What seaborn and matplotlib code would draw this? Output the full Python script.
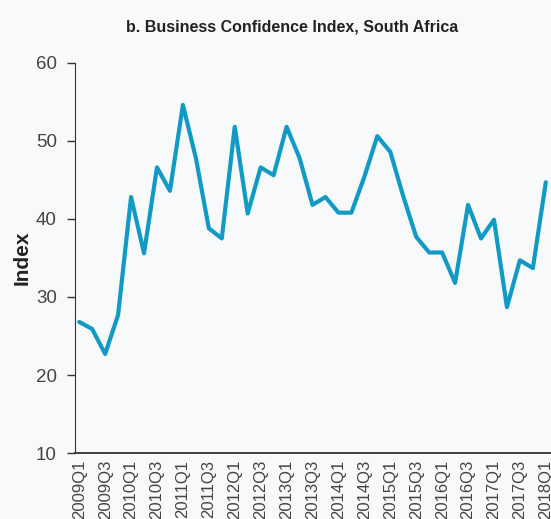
import matplotlib
matplotlib.use('Agg')
import matplotlib.pyplot as plt
import matplotlib.transforms as mtransforms
import pandas as pd
import seaborn as sns

# quarterly business confidence index, 2009Q1 - 2018Q1
quarters = [f'{y}Q{q}' for y in range(2009, 2018) for q in range(1, 5)] + ['2018Q1']
index_values = [26.8, 25.9, 22.7, 27.7, 42.8, 35.6, 46.6, 43.6, 54.6, 47.8,
                38.8, 37.5, 51.8, 40.7, 46.6, 45.6, 51.8, 47.8, 41.8, 42.8,
                40.8, 40.8, 45.4, 50.6, 48.6, 42.9, 37.7, 35.7, 35.7, 31.8,
                41.8, 37.5, 39.9, 28.7, 34.7, 33.7, 44.7]
tick_labels = quarters[::2]

bg = '#f8f9fb'
line_color = '#119ac4'

sns.set_style('ticks')
plt.rcParams['font.family'] = ['Liberation Sans', 'DejaVu Sans']

df = pd.DataFrame({'pos': range(len(quarters)), 'Index': index_values})

fig = plt.figure(figsize=(5.51, 5.19), dpi=100, facecolor=bg)
ax = fig.add_axes([0.136, 0.127, 0.864, 0.752], facecolor=bg)
sns.lineplot(data=df, x='pos', y='Index', color=line_color, linewidth=3.0, ax=ax)

ax.set_xlim(-0.33, 36.4)
ax.set_ylim(10, 60)
ax.set_yticks([10, 20, 30, 40, 50, 60])
ax.set_xticks(range(0, len(quarters), 2))
ax.set_xticklabels(tick_labels, rotation=90, fontsize=12, color='#444444')
shift = mtransforms.ScaledTranslation(5 / 100, 0, fig.dpi_scale_trans)
for lbl in ax.get_xticklabels():
    lbl.set_horizontalalignment('center')
    lbl.set_transform(lbl.get_transform() + shift)
ax.tick_params(axis='x', length=0, pad=5)
ax.tick_params(axis='y', length=6, width=1, pad=7, labelsize=13.5,
               labelcolor='#444444', color='#333333')
sns.despine(ax=ax)
ax.spines['left'].set_color('#333333')
ax.spines['bottom'].set_color('#333333')
ax.spines['bottom'].set_linewidth(1.3)

ax.set_xlabel('')
ax.set_ylabel('Index', fontsize=15, fontweight='bold', color='#222222', labelpad=3)
fig.text(0.53, 0.948, 'b. Business Confidence Index, South Africa',
         ha='center', va='center', fontsize=11.5, fontweight='bold', color='#222222')

fig.savefig('out.png', dpi=100, facecolor=bg)
